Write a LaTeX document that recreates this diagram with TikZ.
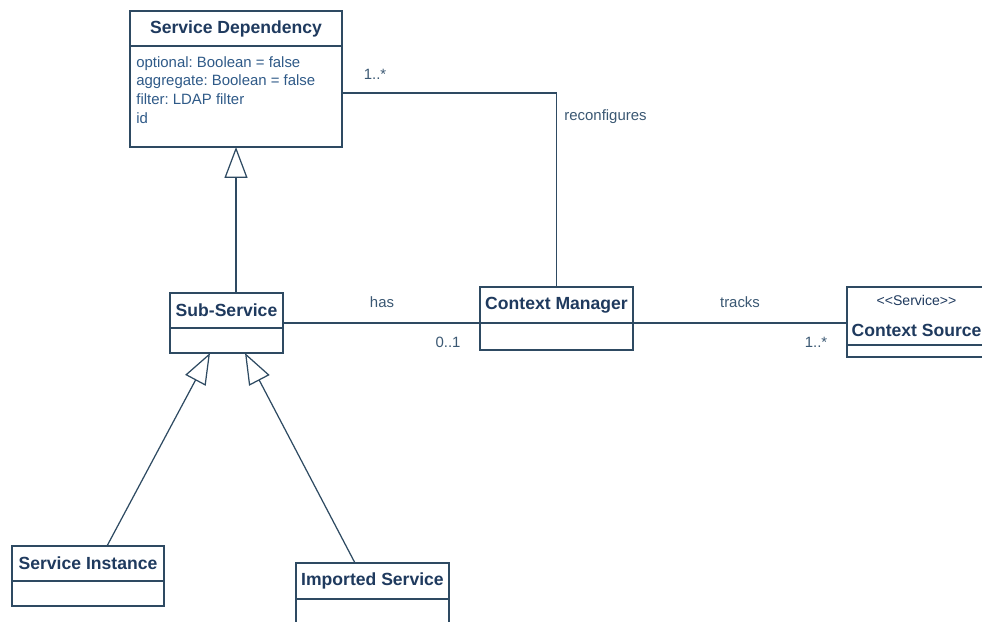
\documentclass[tikz,border=0pt]{standalone}
\usepackage{fontspec}
\setmainfont{Liberation Sans}
\usepackage{tikz}
\usetikzlibrary{arrows.meta, positioning, calc}
\definecolor{edge}{HTML}{2E4A62}
\definecolor{title}{HTML}{1F3A5E}
\definecolor{attr}{HTML}{2F5A88}
\definecolor{lbl}{HTML}{3B5873}
\frenchspacing
\begin{document}
\begin{tikzpicture}[x=0.02cm, y=-0.02cm,
  every node/.style={font=\fontsize{8.5}{10.5}\selectfont, text=lbl},
  hd/.style={draw=edge, line width=0.7pt, fill=white, inner sep=0pt, outer sep=0pt, font=\fontsize{10}{12}\selectfont\bfseries, text=title},
  bd/.style={draw=edge, line width=0.7pt, fill=white, inner sep=0pt, outer sep=0pt, below=0pt of #1},
  gen/.style={draw=edge, line width=0.7pt, -{Triangle[open, length=0.62cm, width=0.46cm, fill=white]}},
  assoc/.style={draw=edge, line width=0.7pt}]
  \fill[white] (0,0) rectangle (982,621);
  \clip (0,0) rectangle (982,621);
  \node[hd, minimum width=4.24cm, minimum height=0.70cm] (depHd) at (236,28.5) {Service Dependency};
  \node[bd=depHd, minimum width=4.24cm, minimum height=2.02cm] (depBd) {};
  \node[anchor=north west, align=left, text=attr, inner sep=0pt, font=\fontsize{8.5}{10.6}\selectfont] (depAttr) at (136,56) {optional: Boolean = false\\aggregate: Boolean = false\\filter: LDAP filter\\id};
  \node[hd, minimum width=2.26cm, minimum height=0.70cm] (subHd) at (226.5,310.5) {Sub-Service};
  \node[bd=subHd, minimum width=2.26cm, minimum height=0.50cm] (subBd) {};
  \node[hd, minimum width=3.06cm, minimum height=0.72cm] (cmHd) at (556.5,305) {Context Manager};
  \node[bd=cmHd, minimum width=3.06cm, minimum height=0.54cm] (cmBd) {};
  \node[hd, minimum width=2.78cm, minimum height=1.16cm, align=center] (srcHd) at (916.5,316) {{\fontsize{8}{9}\selectfont\mdseries <\kern0pt<Service>\kern0pt>}\\[6pt]Context Source};
  \node[bd=srcHd, minimum width=2.78cm, minimum height=0.24cm] (srcBd) {};
  \node[hd, minimum width=3.04cm, minimum height=0.70cm] (instHd) at (88,563.5) {Service Instance};
  \node[bd=instHd, minimum width=3.04cm, minimum height=0.50cm] (instBd) {};
  \node[hd, minimum width=3.06cm, minimum height=0.72cm] (impHd) at (372.5,581) {Imported Service};
  \node[bd=impHd, minimum width=3.06cm, minimum height=0.50cm] (impBd) {};
  \draw[gen] (depBd.south |- subHd.north) -- (depBd.south);
  \draw[gen] ($(instHd.north)+(19,0)$) -- ($(subBd.south)+(-16.5,0)$);
  \draw[gen] ($(impHd.north)+(-17.5,0)$) -- ($(subBd.south)+(18.5,0)$);
  \draw[assoc] ($(depBd.east)+(0,-3.5)$) -| (cmHd.north);
  \draw[assoc] (subHd.east |- cmHd.south) -- (cmHd.south west);
  \draw[assoc] (cmHd.south east) -- (cmHd.south east -| srcHd.west);
  \node (depMult) at (375,74) {1..*};
  \node (reconf) at (605.5,117) {reconfigures};
  \node (hasLbl) at (382,302) {has};
  \node (cmMult) at (448,342) {0..1};
  \node (tracksLbl) at (740,302) {tracks};
  \node (srcMult) at (816,342) {1..*};
\end{tikzpicture}
\end{document}
